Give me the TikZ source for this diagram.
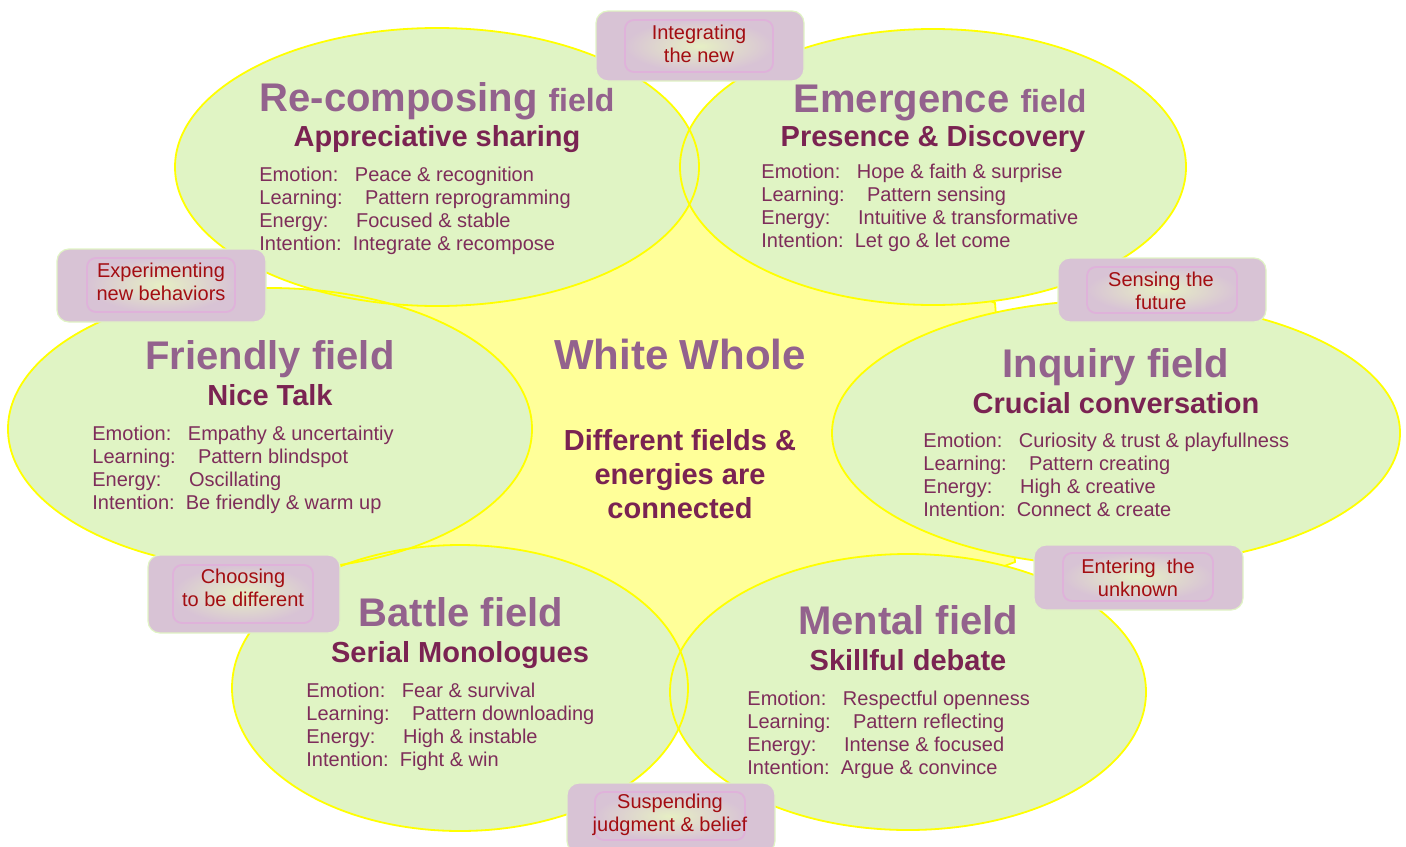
\documentclass[tikz,border=0pt]{standalone}
\usepackage{fontspec}
\setmainfont{Liberation Sans}

\definecolor{fieldgreen}{HTML}{E0F4C4}
\definecolor{wholeyellow}{HTML}{FFFF99}
\definecolor{ringyellow}{HTML}{FFFF00}
\definecolor{titlepurple}{HTML}{93628D}
\definecolor{submaroon}{HTML}{7A2352}
\definecolor{bodymaroon}{HTML}{7E2D5A}
\definecolor{gateback}{HTML}{D8C3D5}
\definecolor{gatepink}{HTML}{DFB2DA}
\definecolor{gatecore}{HTML}{E6EFC4}
\definecolor{gatered}{HTML}{A30D12}

\newcommand{\fieldlines}[4]{Emotion:~~~#1\\Learning:~~~~#2\\Energy:~~~~~#3\\Intention:~~#4}

\tikzset{
  fieldfill/.style={fill=fieldgreen},
  fieldline/.style={draw=ringyellow, line width=0.9pt},
  fieldtitle/.style={anchor=base, inner sep=0pt, text=titlepurple, font=\bfseries\fontsize{20}{24}\selectfont},
  fieldsub/.style={anchor=base, inner sep=0pt, text=submaroon, font=\bfseries\fontsize{14.5}{17}\selectfont},
  fieldbody/.style={anchor=base west, inner sep=0pt, align=left, text=bodymaroon, font=\fontsize{10}{11.4}\selectfont},
  gate/.style={fill=gateback, draw=fieldgreen, line width=0.6pt, rounded corners=6pt},
  gatein/.style={draw=gatepink, line width=0.9pt, rounded corners=4.5pt, inner color=gatecore, outer color=gateback},
  gatetext/.style={inner sep=0pt, align=center, text=gatered, font=\fontsize{10}{11.5}\selectfont},
}

\begin{document}
\begin{tikzpicture}[x=0.5pt, y=-0.5pt]
\useasboundingbox (0,0) rectangle (1406,846);
\def\recomposing{(437,167) ellipse [x radius=131pt, y radius=69.5pt]}
\def\emergence{(933,167) ellipse [x radius=126.5pt, y radius=69pt]}
\def\friendly{(270,429) ellipse [x radius=131pt, y radius=70.5pt]}
\def\inquiry{(1116,433) ellipse [x radius=142pt, y radius=66.5pt]}
\def\battle{(460,688) ellipse [x radius=114pt, y radius=71.5pt]}
\def\mental{(908,692) ellipse [x radius=119pt, y radius=69pt]}

% the whole behind the fields
\draw[fill=wholeyellow, draw=ringyellow, line width=0.9pt]
  (395,303) -- (690,170) -- (995,303) -- (1015,562) -- (680,690) -- (405,548) -- cycle;

\fill[fieldfill] \recomposing;
\fill[fieldfill] \emergence;
\fill[fieldfill] \friendly;
\fill[fieldfill] \inquiry;
\fill[fieldfill] \battle;
\fill[fieldfill] \mental;
\draw[fieldline] \recomposing;
\draw[fieldline] \emergence;
\draw[fieldline] \friendly;
\draw[fieldline] \inquiry;
\draw[fieldline] \battle;
\draw[fieldline] \mental;

% base of a body is its last line
\node[fieldtitle] (recomp-t) at (437,111) {Re-composing {\fontsize{16}{20}\selectfont field}};
\node[fieldsub] (recomp-s) at (437,146) {Appreciative sharing};
\node[fieldbody] (recomp-b) at (259,250) {\fieldlines{Peace \& recognition}{Pattern reprogramming}{Focused \& stable}{Integrate \& recompose}};

\node[fieldtitle] (emerg-t) at (940,112) {Emergence {\fontsize{16}{20}\selectfont field}};
\node[fieldsub] (emerg-s) at (933,146) {Presence \& Discovery};
\node[fieldbody] (emerg-b) at (761,247) {\fieldlines{Hope \& faith \& surprise}{Pattern sensing}{Intuitive \& transformative}{Let go \& let come}};

\node[fieldtitle] (friend-t) at (270,369) {Friendly field};
\node[fieldsub] (friend-s) at (270,405) {Nice Talk};
\node[fieldbody] (friend-b) at (92,509) {\fieldlines{Empathy \& uncertaintiy}{Pattern blindspot}{Oscillating}{Be friendly \& warm up}};

\node[fieldtitle] (inq-t) at (1116,377) {Inquiry field};
\node[fieldsub] (inq-s) at (1116,413) {Crucial conversation};
\node[fieldbody] (inq-b) at (923,516) {\fieldlines{Curiosity \& trust \& playfullness}{Pattern creating}{High \& creative}{Connect \& create}};

\node[fieldtitle] (battle-t) at (461,626) {Battle field};
\node[fieldsub] (battle-s) at (460,662) {Serial Monologues};
\node[fieldbody] (battle-b) at (306,766) {\fieldlines{Fear \& survival}{Pattern downloading}{High \& instable}{Fight \& win}};

\node[fieldtitle] (mental-t) at (908,634) {Mental field};
\node[fieldsub] (mental-s) at (908,670) {Skillful debate};
\node[fieldbody] (mental-b) at (747,774) {\fieldlines{Respectful openness}{Pattern reflecting}{Intense \& focused}{Argue \& convince}};

\node[fieldtitle, font=\bfseries\fontsize{21}{25}\selectfont] (whole) at (680,369) {White Whole};
\node[fieldsub, align=center, font=\bfseries\fontsize{14.5}{17}\selectfont] (connected) at (680,518) {Different fields \&\\energies are\\connected};

% passages between the fields
\node[gate, minimum width=104pt, minimum height=35pt] (integrate) at (700,46) {};
\node[gatein, minimum width=74pt, minimum height=26pt] (integrate-in) at (699,46) {};
\node[gatetext] (integrate-t) at (699,44) {Integrating\\the new};

\node[gate, minimum width=104.5pt, minimum height=36.5pt] (experiment) at (161.5,285.5) {};
\node[gatein, minimum width=74pt, minimum height=27pt] (experiment-in) at (161,285) {};
\node[gatetext] (experiment-t) at (161,282) {Experimenting\\new behaviors};

\node[gate, minimum width=104pt, minimum height=32pt] (sensing) at (1162,290) {};
\node[gatein, minimum width=75pt, minimum height=23pt] (sensing-in) at (1162,290) {};
\node[gatetext] (sensing-t) at (1161,291) {Sensing the\\future};

\node[gate, minimum width=96pt, minimum height=39pt] (choosing) at (244,594) {};
\node[gatein, minimum width=70pt, minimum height=29pt] (choosing-in) at (243,594) {};
\node[gatetext] (choosing-t) at (243,588) {Choosing\\to be different};

\node[gate, minimum width=104.5pt, minimum height=32.5pt] (entering) at (1138.5,577.5) {};
\node[gatein, minimum width=75pt, minimum height=24pt] (entering-in) at (1138,577) {};
\node[gatetext] (entering-t) at (1138,578) {Entering\ \ the\\unknown};

\node[gate, minimum width=104pt, minimum height=35pt] (suspending) at (671,818) {};
\node[gatein, minimum width=75pt, minimum height=24pt] (suspending-in) at (670,816) {};
\node[gatetext] (suspending-t) at (670,815) {Suspending\\judgment \& belief};
\end{tikzpicture}
\end{document}
